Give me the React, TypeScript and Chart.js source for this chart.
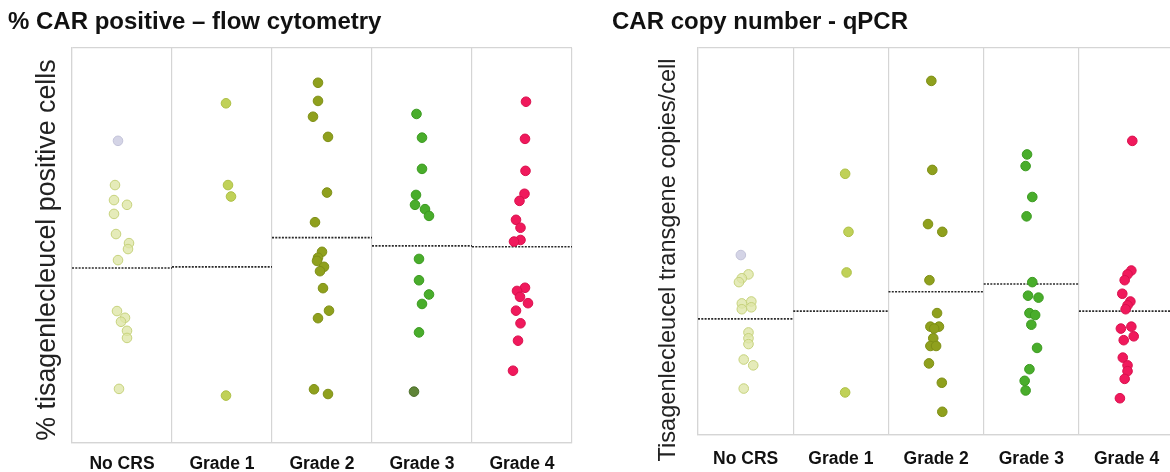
import React, { useEffect, useRef } from 'react';
import { Chart, registerables } from 'chart.js';

Chart.register(...registerables);

const categories = ['No CRS', 'Grade 1', 'Grade 2', 'Grade 3', 'Grade 4'];

// % tisagenlecleucel-positive cells (flow cytometry), one array per CRS grade
const flowNoCrs = [76.5, 65.3, 61.5, 60.3, 58.0, 52.9, 50.6, 49.1, 46.3, 33.4, 31.7, 30.7, 28.4, 26.6, 13.7];
const flowGrade1 = [86.0, 65.3, 62.4, 12.0];
const flowGrade2 = [91.2, 86.6, 82.6, 77.5, 63.4, 55.9, 48.4, 46.9, 46.1, 44.6, 43.5, 39.2, 33.5, 31.6, 13.6, 12.4];
const flowGrade3 = [83.3, 77.3, 69.4, 62.8, 60.3, 59.2, 57.5, 46.6, 41.2, 37.6, 35.2, 28.0, 13.0];
const flowGrade4 = [86.4, 77.0, 68.9, 63.1, 61.3, 56.5, 54.5, 51.4, 51.0, 39.3, 38.5, 37.0, 35.4, 33.5, 30.3, 25.9, 18.3];
const flowMedians = [44.3, 44.6, 52.0, 49.9, 49.7];

// horizontal spread of each dot around its category (category units)
const flowNoCrsJitter = [-0.04, -0.07, -0.08, 0.05, -0.08, -0.06, 0.07, 0.06, -0.04, -0.05, 0.03, -0.01, 0.05, 0.05, -0.03];
const flowGrade1Jitter = [0.04, 0.06, 0.09, 0.04];
const flowGrade2Jitter = [-0.04, -0.04, -0.09, 0.06, 0.05, -0.07, 0.0, -0.04, -0.05, 0.02, -0.02, 0.01, 0.07, -0.04, -0.08, 0.06];
const flowGrade3Jitter = [-0.055, 0.0, 0.0, -0.06, -0.07, 0.03, 0.07, -0.03, -0.03, 0.07, 0.0, -0.03, -0.08];
const flowGrade4Jitter = [0.04, 0.03, 0.035, 0.025, -0.025, -0.06, -0.015, -0.015, -0.08, 0.03, -0.05, -0.02, 0.06, -0.06, -0.015, -0.04, -0.09];

// transgene copies per cell (qPCR), one array per CRS grade
const qpcrNoCrs = [0.93, 0.83, 0.81, 0.79, 0.69, 0.68, 0.66, 0.65, 0.53, 0.5, 0.47, 0.39, 0.36, 0.24];
const qpcrGrade1 = [1.35, 1.05, 0.84, 0.22];
const qpcrGrade2 = [1.83, 1.37, 1.09, 1.05, 0.8, 0.63, 0.56, 0.56, 0.55, 0.5, 0.46, 0.46, 0.37, 0.27, 0.12];
const qpcrGrade3 = [1.45, 1.39, 1.23, 1.13, 0.79, 0.72, 0.71, 0.63, 0.62, 0.57, 0.45, 0.34, 0.28, 0.23];
const qpcrGrade4 = [1.52, 0.85, 0.83, 0.8, 0.73, 0.69, 0.67, 0.65, 0.56, 0.55, 0.51, 0.49, 0.4, 0.36, 0.33, 0.29, 0.19];
const qpcrMedians = [0.6, 0.64, 0.74, 0.78, 0.64];

const qpcrNoCrsJitter = [-0.05, 0.03, -0.04, -0.07, 0.06, -0.04, 0.06, -0.04, 0.03, 0.03, 0.03, -0.02, 0.08, -0.02];
const qpcrGrade1Jitter = [0.045, 0.08, 0.06, 0.045];
const qpcrGrade2Jitter = [-0.05, -0.04, -0.085, 0.065, -0.07, 0.01, -0.06, 0.03, -0.02, -0.03, -0.06, 0.0, -0.075, 0.06, 0.065];
const qpcrGrade3Jitter = [-0.045, -0.06, 0.01, -0.05, 0.01, -0.035, 0.075, -0.02, 0.04, 0.0, 0.06, -0.02, -0.07, -0.06];
const qpcrGrade4Jitter = [0.06, 0.05, 0.01, -0.02, -0.045, 0.04, 0.01, -0.01, 0.05, -0.06, 0.075, -0.03, -0.04, 0.01, 0.01, -0.02, -0.07];

const FONT = "'Liberation Sans', Arial, Helvetica, sans-serif";
const FRAME = '#d5d5d5';

// per-grade dot colours
const fills = ['rgba(222,230,168,0.8)', '#c0d158', '#8fa01d', '#49ad2b', '#f0195c'];
const borders = ['#c6d27c', '#adbf45', '#7e8f16', '#3b9a20', '#d9104d'];

// Rotated y-axis caption, drawn in the space the y scale reserves
const axisCaption = {
  id: 'axisCaption',
  afterDraw(chart: any, _args: any, opts: any) {
    if (!opts || !opts.text) return;
    const { ctx } = chart;
    ctx.save();
    ctx.translate(opts.x, opts.y);
    ctx.rotate(-Math.PI / 2);
    ctx.font = `${opts.size}px ${FONT}`;
    ctx.fillStyle = opts.color || '#222';
    ctx.textAlign = 'center';
    ctx.textBaseline = 'middle';
    ctx.fillText(opts.text, 0, 0);
    ctx.restore();
  },
};

type PanelSpec = {
  title: string;
  yTitle: string;
  yTitleSize: number;
  yTitleX: number;
  yTitleY: number;
  yMax: number;
  groups: number[][];
  jitters: number[][];
  medians: number[];
  axisWidth: number;
  axisHeight: number;
  tickPad: number;
  padRight: number;
  paleIndex: number;
  darkGrade3Index: number | null;
};

function pointColours(gi: number, n: number, spec: PanelSpec) {
  const bg = Array.from({ length: n }, () => fills[gi]);
  const bd = Array.from({ length: n }, () => borders[gi]);
  if (gi === 0 && spec.paleIndex >= 0) {
    bg[spec.paleIndex] = 'rgba(205,205,226,0.85)';
    bd[spec.paleIndex] = '#c2c2d8';
  }
  if (gi === 3 && spec.darkGrade3Index !== null) {
    bg[spec.darkGrade3Index] = '#5f8438';
    bd[spec.darkGrade3Index] = '#4c6e2a';
  }
  return { bg, bd };
}

function buildConfig(spec: PanelSpec): any {
  const datasets: any[] = [];
  spec.groups.forEach((vals, gi) => {
    const { bg, bd } = pointColours(gi, vals.length, spec);
    datasets.push({
      type: 'scatter',
      label: categories[gi],
      data: vals.map((y, i) => ({ x: gi + 1 + spec.jitters[gi][i], y })),
      backgroundColor: bg,
      borderColor: bd,
      borderWidth: 1,
      pointRadius: 4.8,
      pointHoverRadius: 4.8,
      order: 1,
    });
  });
  spec.medians.forEach((m, gi) => {
    datasets.push({
      type: 'line',
      label: categories[gi] + ' median',
      data: [
        { x: gi + 0.5, y: m },
        { x: gi + 1.5, y: m },
      ],
      borderColor: '#2a2a2a',
      borderWidth: 1.6,
      borderDash: [2, 1.3],
      pointRadius: 0,
      pointHoverRadius: 0,
      fill: false,
      order: 2,
    });
  });

  return {
    type: 'scatter',
    data: { datasets },
    plugins: [axisCaption],
    options: {
      responsive: false,
      animation: false,
      events: [],
      layout: { padding: { left: 0, right: spec.padRight, top: 0, bottom: 0 } },
      plugins: {
        legend: { display: false },
        tooltip: { enabled: false },
        title: {
          display: true,
          text: spec.title,
          align: 'start',
          color: '#111',
          font: { family: FONT, size: 24, weight: 'bold', lineHeight: 1.2 },
          padding: { top: 8, bottom: 11.2 },
        },
        axisCaption: {
          text: spec.yTitle,
          size: spec.yTitleSize,
          x: spec.yTitleX,
          y: spec.yTitleY,
          color: '#222',
        },
      },
      scales: {
        x: {
          type: 'linear',
          min: 0.5,
          max: 5.5,
          afterBuildTicks: (s: any) => {
            s.ticks = categories.map((_, i) => ({ value: i + 1 }));
          },
          afterFit: (s: any) => {
            s.height = spec.axisHeight;
          },
          grid: { offset: true, color: FRAME, lineWidth: 1.2, drawTicks: false },
          border: { display: true, color: FRAME, width: 1.2 },
          ticks: {
            autoSkip: false,
            maxRotation: 0,
            padding: spec.tickPad,
            color: '#111',
            font: { family: FONT, size: 17.5, weight: 'bold' },
            callback: (v: number) => categories[Math.round(v) - 1],
          },
        },
        y: {
          type: 'linear',
          min: 0,
          max: spec.yMax,
          afterBuildTicks: (s: any) => {
            s.ticks = [{ value: 0 }, { value: spec.yMax }];
          },
          afterFit: (s: any) => {
            s.width = spec.axisWidth;
          },
          grid: { color: FRAME, lineWidth: 1.2, drawTicks: false },
          border: { display: true, color: FRAME, width: 1.2 },
          ticks: { display: false },
          title: { display: false },
        },
      },
    },
  };
}

export default function App() {
  const leftRef = useRef<HTMLCanvasElement>(null);
  const rightRef = useRef<HTMLCanvasElement>(null);

  useEffect(() => {
    const flow = new Chart(
      leftRef.current as HTMLCanvasElement,
      buildConfig({
        title: '% CAR positive \u2013 flow cytometry',
        yTitle: '% tisagenlecleucel positive cells',
        yTitleSize: 26.8,
        yTitleX: 39.5,
        yTitleY: 250,
        yMax: 100,
        groups: [flowNoCrs, flowGrade1, flowGrade2, flowGrade3, flowGrade4],
        jitters: [flowNoCrsJitter, flowGrade1Jitter, flowGrade2Jitter, flowGrade3Jitter, flowGrade4Jitter],
        medians: flowMedians,
        axisWidth: 64,
        axisHeight: 29,
        tickPad: 10.5,
        padRight: 18,
        paleIndex: 0,
        darkGrade3Index: 12,
      })
    );
    const qpcr = new Chart(
      rightRef.current as HTMLCanvasElement,
      buildConfig({
        title: 'CAR copy number - qPCR',
        yTitle: 'Tisagenlecleucel transgene copies/cell',
        yTitleSize: 23.6,
        yTitleX: 56,
        yTitleY: 260,
        yMax: 2,
        groups: [qpcrNoCrs, qpcrGrade1, qpcrGrade2, qpcrGrade3, qpcrGrade4],
        jitters: [qpcrNoCrsJitter, qpcrGrade1Jitter, qpcrGrade2Jitter, qpcrGrade3Jitter, qpcrGrade4Jitter],
        medians: qpcrMedians,
        axisWidth: 86,
        axisHeight: 37,
        tickPad: 14,
        padRight: 0,
        paleIndex: 0,
        darkGrade3Index: null,
      })
    );
    return () => {
      flow.destroy();
      qpcr.destroy();
    };
  }, []);

  return (
    <div
      style={{
        position: 'absolute',
        left: 0,
        top: 0,
        width: 1170,
        height: 472,
        overflow: 'hidden',
        background: '#fff',
      }}
    >
      <canvas ref={leftRef} width={582} height={472} style={{ position: 'absolute', left: 8, top: 0, display: 'block' }} />
      <canvas ref={rightRef} width={568} height={472} style={{ position: 'absolute', left: 612, top: 0, display: 'block' }} />
    </div>
  );
}
